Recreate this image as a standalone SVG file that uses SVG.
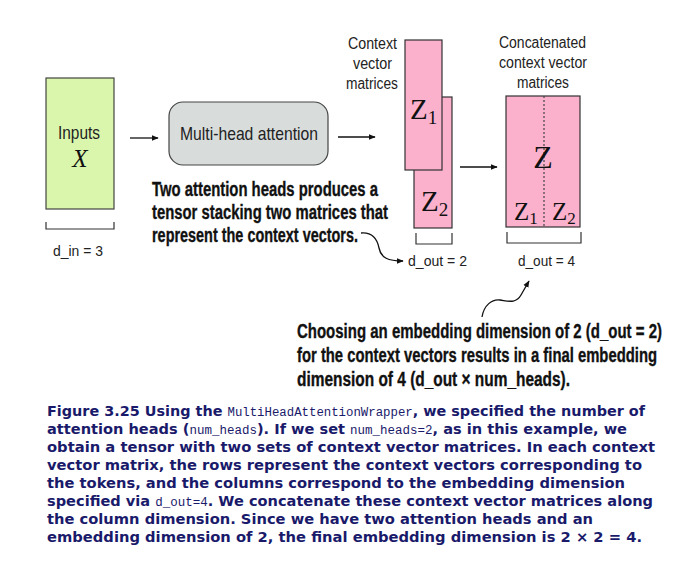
<svg xmlns="http://www.w3.org/2000/svg" width="687" height="562" viewBox="0 0 687 562">
<defs>
<marker id="ah" viewBox="0 0 10 10" refX="9" refY="5" markerWidth="7" markerHeight="7" markerUnits="userSpaceOnUse" orient="auto">
<path d="M0,1 L10,5 L0,9 Z" fill="#111"/>
</marker>
<style>
.lbl{font-family:"Liberation Sans","Arial",sans-serif;fill:#222;}
.ser{font-family:"Liberation Serif","Times New Roman",serif;fill:#111;}
.ann{font-family:"Liberation Sans Narrow","Liberation Sans",sans-serif;font-weight:bold;font-size:20px;fill:#111;stroke:#111;stroke-width:0.35;}
.cap{font-family:"DejaVu Sans",Verdana,sans-serif;font-weight:bold;font-size:14px;fill:#1a1a6b;}
.code{font-family:"Liberation Mono","Courier New",monospace;font-weight:normal;font-size:12px;}
.box{stroke:#444;stroke-width:1.2;}
.pink{fill:#fbb0cc;stroke:#333;stroke-width:1.2;}
.conn{fill:none;stroke:#111;stroke-width:1.3;}
.brk{fill:none;stroke:#333;stroke-width:1.2;}
</style>
</defs>
<rect width="687" height="562" fill="#fff"/>

<g id="inputs">
<rect x="46" y="78" width="68" height="131" fill="#daf6ad" class="box"/>
<text class="lbl" x="58" y="139" font-size="18" textLength="42" lengthAdjust="spacingAndGlyphs">Inputs</text>
<text class="ser" x="80" y="167" font-size="25" font-style="italic" text-anchor="middle">X</text>
</g>

<g id="mha">
<rect x="169" y="102" width="159" height="63" rx="14" fill="#d8dddc" class="box"/>
<text class="lbl" x="180" y="140" font-size="19" textLength="138" lengthAdjust="spacingAndGlyphs">Multi-head attention</text>
</g>

<g id="context-label">
<text class="lbl" font-size="16" x="348" y="49" textLength="49" lengthAdjust="spacingAndGlyphs">Context</text>
<text class="lbl" font-size="16" x="353" y="69" textLength="39" lengthAdjust="spacingAndGlyphs">vector</text>
<text class="lbl" font-size="16" x="346" y="89" textLength="52" lengthAdjust="spacingAndGlyphs">matrices</text>
</g>

<g id="z2">
<rect x="414" y="97" width="38" height="131" class="pink"/>
<text class="ser" x="421" y="211" font-size="29">Z<tspan font-size="19" dy="5">2</tspan></text>
</g>
<g id="z1">
<rect x="405" y="40" width="37" height="130" class="pink"/>
<text class="ser" x="410" y="119" font-size="29">Z<tspan font-size="19" dy="5">1</tspan></text>
</g>

<g id="concat-label">
<text class="lbl" font-size="16" x="499" y="48" textLength="87" lengthAdjust="spacingAndGlyphs">Concatenated</text>
<text class="lbl" font-size="16" x="499" y="68" textLength="88" lengthAdjust="spacingAndGlyphs">context vector</text>
<text class="lbl" font-size="16" x="517" y="88" textLength="52" lengthAdjust="spacingAndGlyphs">matrices</text>
</g>

<g id="concat">
<rect x="506" y="96" width="74" height="131" class="pink"/>
<line x1="544" y1="96" x2="544" y2="227" stroke="#444" stroke-width="1.2" stroke-dasharray="2,2"/>
<text class="ser" x="543" y="168" font-size="32" text-anchor="middle">Z</text>
<text class="ser" x="514" y="220" font-size="25">Z<tspan font-size="17" dy="4">1</tspan></text>
<text class="ser" x="552" y="220" font-size="25">Z<tspan font-size="17" dy="4">2</tspan></text>
</g>

<g id="dims">
<path class="brk" d="M46,222 V229 H114 V222"/>
<text class="lbl" x="53" y="256" font-size="15" textLength="50" lengthAdjust="spacingAndGlyphs">d_in = 3</text>
<path class="brk" d="M416,233 V244 H452 V233"/>
<text class="lbl" x="408" y="266" font-size="15" textLength="59" lengthAdjust="spacingAndGlyphs">d_out = 2</text>
<path class="brk" d="M507,232 V243 H581 V232"/>
<text class="lbl" x="518" y="266" font-size="15" textLength="57" lengthAdjust="spacingAndGlyphs">d_out = 4</text>
</g>

<g id="connectors">
<line class="conn" x1="130" y1="138" x2="158" y2="138" marker-end="url(#ah)"/>
<line class="conn" x1="338" y1="137" x2="375" y2="137" marker-end="url(#ah)"/>
<line class="conn" x1="460" y1="167" x2="497" y2="167" marker-end="url(#ah)"/>
<path class="conn" stroke-width="1" d="M361,233 C372,232 377,238 379,248 C381,258 388,261 403,261" marker-end="url(#ah)"/>
<path class="conn" stroke-width="1" d="M482,317 C484,305 492,299 500,300 C508,301 516,304 521,295 L529,281" marker-end="url(#ah)"/>
</g>

<g id="annotation1">
<text class="ann" x="152" y="196" textLength="226" lengthAdjust="spacingAndGlyphs">Two attention heads produces a</text>
<text class="ann" x="152" y="219" textLength="236" lengthAdjust="spacingAndGlyphs">tensor stacking two matrices that</text>
<text class="ann" x="152" y="242" textLength="206" lengthAdjust="spacingAndGlyphs">represent the context vectors.</text>
</g>

<g id="annotation2">
<text class="ann" x="297" y="338" textLength="365" lengthAdjust="spacingAndGlyphs">Choosing an embedding dimension of 2 (d_out = 2)</text>
<text class="ann" x="297" y="362" textLength="360" lengthAdjust="spacingAndGlyphs">for the context vectors results in a final embedding</text>
<text class="ann" x="297" y="386" textLength="273" lengthAdjust="spacingAndGlyphs">dimension of 4 (d_out × num_heads).</text>
</g>

<g id="caption">
<text class="cap" x="47" y="416" textLength="598" lengthAdjust="spacingAndGlyphs">Figure 3.25 Using the <tspan class="code">MultiHeadAttentionWrapper</tspan>, we specified the number of</text>
<text class="cap" x="47" y="434" textLength="580" lengthAdjust="spacingAndGlyphs">attention heads (<tspan class="code">num_heads</tspan>). If we set <tspan class="code">num_heads=2</tspan>, as in this example, we</text>
<text class="cap" x="47" y="452" textLength="608" lengthAdjust="spacingAndGlyphs">obtain a tensor with two sets of context vector matrices. In each context</text>
<text class="cap" x="47" y="470" textLength="595" lengthAdjust="spacingAndGlyphs">vector matrix, the rows represent the context vectors corresponding to</text>
<text class="cap" x="47" y="488" textLength="578" lengthAdjust="spacingAndGlyphs">the tokens, and the columns correspond to the embedding dimension</text>
<text class="cap" x="47" y="506" textLength="606" lengthAdjust="spacingAndGlyphs">specified via <tspan class="code">d_out=4</tspan>. We concatenate these context vector matrices along</text>
<text class="cap" x="47" y="524" textLength="546" lengthAdjust="spacingAndGlyphs">the column dimension. Since we have two attention heads and an</text>
<text class="cap" x="47" y="542" textLength="595" lengthAdjust="spacingAndGlyphs">embedding dimension of 2, the final embedding dimension is 2 × 2 = 4.</text>
</g>
</svg>
